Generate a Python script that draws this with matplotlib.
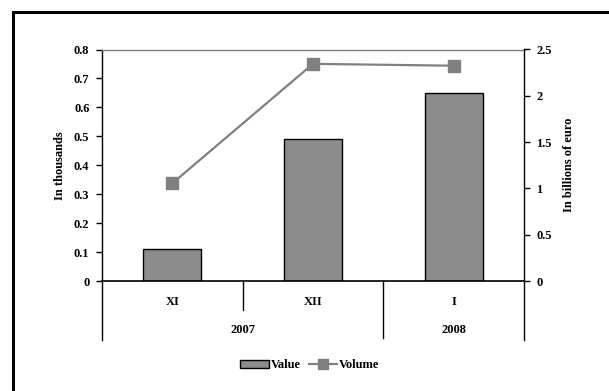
import matplotlib
matplotlib.use("Agg")
import matplotlib.pyplot as plt
from matplotlib.patches import Rectangle
from matplotlib.lines import Line2D

months = ["XI", "XII", "I"]
years = ["2007", "2008"]
year_spans = [(0, 2), (2, 3)]
value = [0.11, 0.49, 0.65]        # left axis, in thousands
volume = [1.055, 2.345, 2.325]    # right axis, in billions of euro
left_ticks = [0, 0.1, 0.2, 0.3, 0.4, 0.5, 0.6, 0.7, 0.8]
right_ticks = [0, 0.5, 1, 1.5, 2, 2.5]

plt.rcParams['font.family'] = ['Liberation Serif', 'DejaVu Serif']
plt.rcParams['font.weight'] = 'bold'
FS = 9

W, H = 609, 391
fig = plt.figure(figsize=(W / 100, H / 100), dpi=100)

# outer frame
fig.patches.append(Rectangle((13 / W, 0 - 0.05), 1.0, (H - 12) / H + 0.05,
                             transform=fig.transFigure, fill=False,
                             edgecolor='black', linewidth=2.2, zorder=0))

x0, x1, y0, y1 = 102, 524, 281, 49.5
ax = fig.add_axes([x0 / W, 1 - y0 / H, (x1 - x0) / W, (y0 - y1) / H])
ax2 = ax.twinx()

xs = list(range(len(months)))
ax.bar(xs, value, width=0.41, color='#8c8c8c', edgecolor='black', linewidth=1.0, zorder=2)
ax2.plot(xs, volume, color='#808080', linewidth=1.6, marker='s', markersize=8,
         markerfacecolor='#808080', markeredgecolor='#808080', zorder=3)

ax.set_xlim(-0.5, 2.5)
ax.set_ylim(0, 0.8)
ax2.set_ylim(0, 2.5)
ax.set_yticks(left_ticks)
ax.set_yticklabels(['0' if t == 0 else f"{t:g}" for t in left_ticks])
ax2.set_yticks(right_ticks)
ax2.set_yticklabels([f"{t:g}" for t in right_ticks])

for a in (ax, ax2):
    a.spines['top'].set_color('#808080')
    a.spines['top'].set_linewidth(1.0)
    a.spines['left'].set_linewidth(1.0)
    a.spines['right'].set_linewidth(1.0)
    a.spines['left'].set_color('black')
    a.spines['right'].set_color('black')
    a.spines['bottom'].set_linewidth(1.2)
    a.tick_params(axis='y', length=4, width=1.0, labelsize=FS, pad=5)
ax2.spines['top'].set_visible(False)
ax.spines['right'].set_visible(False)
ax2.spines['left'].set_visible(False)
ax2.spines['bottom'].set_visible(False)
ax.set_xticks([])
ax.tick_params(axis='y', direction='out')

ax.set_ylabel("In thousands", fontsize=FS, fontweight='bold', labelpad=6)
ax2.set_ylabel("In billions of euro", fontsize=FS, fontweight='bold', labelpad=8)

# category axis: separator lines and labels
trans = ax.get_xaxis_transform()
ax_h = (y0 - y1)
def yax(py):
    return (y0 - py) / ax_h

for b, ybot in [(-0.5, 340), (0.5, 310), (1.5, 338), (2.5, 340)]:
    ax.add_line(Line2D([b, b], [0, yax(ybot)], transform=trans, color='black',
                       linewidth=1.0, clip_on=False))
for i, m in enumerate(months):
    ax.text(i, yax(302), m, transform=trans, ha='center', va='center',
            fontsize=FS, fontweight='bold')
for yr, (s, e) in zip(years, year_spans):
    ax.text((s + e) / 2 - 0.5, yax(330), yr, transform=trans, ha='center', va='center',
            fontsize=FS, fontweight='bold')

# legend
handles = [Rectangle((0, 0), 1, 1, facecolor='#8c8c8c', edgecolor='black', linewidth=1.0),
           Line2D([], [], color='#808080', linewidth=1.6, marker='s', markersize=7,
                  markerfacecolor='#808080', markeredgecolor='#808080')]
fig.legend(handles, ["Value", "Volume"], loc='center', bbox_to_anchor=(310 / W, 1 - 365 / H),
           ncol=2, frameon=False, handlelength=2.3, handleheight=0.6, handletextpad=0.15,
           columnspacing=0.6, prop={'weight': 'bold', 'size': FS})

fig.savefig("out.png", dpi=100)
